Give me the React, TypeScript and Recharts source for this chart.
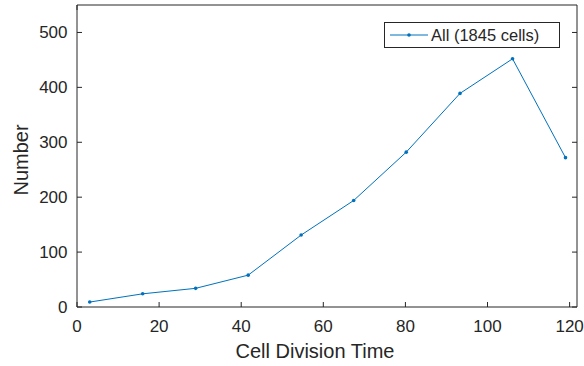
import { LineChart, Line, XAxis, YAxis, Legend, Label } from 'recharts'

const divisionTime = [3.1, 16.0, 28.9, 41.7, 54.6, 67.4, 80.2, 93.3, 106.1, 119.0]
const cellCount = [9, 24, 34, 58, 131, 194, 282, 389, 452, 272]
const xTicks = [0, 20, 40, 60, 80, 100, 120]
const yTicks = [0, 100, 200, 300, 400, 500]

const data = divisionTime.map((t, i) => ({ time: t, count: cellCount[i] }))

const BLUE = '#0072BD'
const INK = '#262626'
const FONT = '"Liberation Sans", Arial, Helvetica, sans-serif'

const noLabel = () => <g />

const renderLegend = (props: any) => {
  const name = props.payload?.[0]?.value ?? 'All (1845 cells)'
  return (
    <div
      style={{
        boxSizing: 'border-box',
        width: 176,
        height: 26,
        border: `1px solid ${INK}`,
        background: '#fff',
        display: 'flex',
        alignItems: 'center',
        fontFamily: FONT,
        fontSize: 16.5,
        color: INK,
      }}
    >
      <svg width={46} height={24} style={{ flex: 'none' }}>
        <line x1={5} y1={12} x2={43} y2={12} stroke={BLUE} strokeWidth={1} />
        <circle cx={24} cy={12} r={1.8} fill={BLUE} />
      </svg>
      <span style={{ whiteSpace: 'nowrap' }}>{name}</span>
    </div>
  )
}

export default function App() {
  return (
    <div style={{ position: 'absolute', left: 0, top: 0, width: 584, height: 366, background: '#fff' }}>
      <LineChart width={584} height={366} data={data} margin={{ top: 4, right: 6, left: 0, bottom: 0 }}>
        <XAxis
          dataKey="time"
          type="number"
          domain={[0, 121.8]}
          ticks={xTicks}
          allowDataOverflow
          height={59}
          stroke={INK}
          tickSize={-5}
          tickMargin={18}
          tick={{ fill: INK, fontSize: 17, fontFamily: FONT }}
        >
          <Label
            content={() => (
              <text x={315} y={351} textAnchor="middle" dominantBaseline="central" fill={INK} fontSize={20} fontFamily={FONT}>
                Cell Division Time
              </text>
            )}
          />
        </XAxis>
        <XAxis
          xAxisId="top"
          orientation="top"
          type="number"
          domain={[0, 121.8]}
          ticks={xTicks}
          allowDataOverflow
          height={1}
          stroke={INK}
          tickSize={-5}
          tick={noLabel}
        />
        <YAxis
          type="number"
          domain={[0, 550]}
          ticks={yTicks}
          allowDataOverflow
          width={77}
          stroke={INK}
          tickSize={-5}
          tickMargin={14.5}
          tick={{ fill: INK, fontSize: 17, fontFamily: FONT }}
        >
          <Label
            content={() => (
              <text
                x={21}
                y={160}
                transform="rotate(-90, 21, 160)"
                textAnchor="middle"
                dominantBaseline="central"
                fill={INK}
                fontSize={20}
                fontFamily={FONT}
              >
                Number
              </text>
            )}
          />
        </YAxis>
        <YAxis
          yAxisId="right"
          orientation="right"
          type="number"
          domain={[0, 550]}
          ticks={yTicks}
          allowDataOverflow
          width={1}
          stroke={INK}
          tickSize={-5}
          tick={noLabel}
        />
        <Legend
          layout="horizontal"
          verticalAlign="middle"
          align="center"
          content={renderLegend}
          wrapperStyle={{ left: 384, top: 22, width: 176, height: 26 }}
        />
        <Line
          dataKey="count"
          name="All (1845 cells)"
          type="linear"
          stroke={BLUE}
          strokeWidth={1}
          dot={{ r: 1.8, fill: BLUE, stroke: BLUE, strokeWidth: 0 }}
          activeDot={false}
          isAnimationActive={false}
        />
      </LineChart>
    </div>
  )
}
